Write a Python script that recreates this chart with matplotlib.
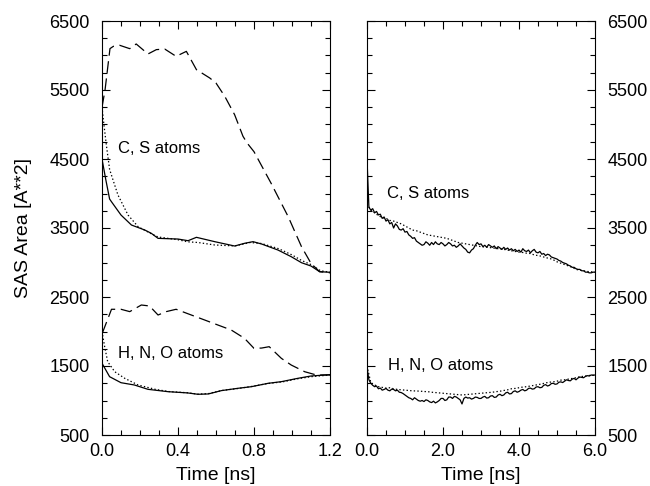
import numpy as np
import matplotlib
matplotlib.use("Agg")
import matplotlib.pyplot as plt
from matplotlib.ticker import MultipleLocator, FormatStrFormatter

plt.rcParams['font.family'] = ['Liberation Sans', 'DejaVu Sans']
plt.rcParams['lines.scale_dashes'] = False

# ---------------- Left panel (0 - 1.2 ns) ----------------
cs_solid_t = [0, 0.02, 0.04, 0.05, 0.10, 0.155, 0.225, 0.26, 0.295, 0.40, 0.453, 0.497,
              0.593, 0.698, 0.75, 0.795, 0.84, 0.926, 0.996, 1.05, 1.10, 1.145, 1.2]
cs_solid_v = [4500, 4200, 3920, 3880, 3688, 3543, 3471, 3422, 3350, 3340, 3316, 3365,
              3302, 3239, 3278, 3302, 3268, 3181, 3084, 2997, 2949, 2867, 2858]

cs_dot_t = [0, 0.01, 0.023, 0.04, 0.058, 0.084, 0.137, 0.19, 0.25, 0.295, 0.40, 0.45,
            0.505, 0.593, 0.70, 0.78, 0.84, 0.93, 1.0, 1.05, 1.10, 1.15, 1.2]
cs_dot_v = [5250, 5000, 4700, 4350, 4196, 3978, 3688, 3519, 3430, 3370, 3330, 3300,
            3290, 3254, 3240, 3290, 3275, 3200, 3110, 3030, 2970, 2880, 2860]

cs_dash_t = [0, 0.016, 0.042, 0.06, 0.093, 0.146, 0.18, 0.242, 0.286, 0.33, 0.39, 0.444,
             0.497, 0.567, 0.60, 0.646, 0.698, 0.742, 0.765, 0.80, 0.89, 0.98, 1.05,
             1.10, 1.145, 1.2]
cs_dash_v = [5250, 5500, 6100, 6133, 6148, 6099, 6167, 6022, 6085, 6094, 5988, 6060,
             5795, 5674, 5601, 5409, 5142, 4829, 4727, 4606, 4148, 3664, 3229,
             2988, 2867, 2850]

hno_solid_t = [0, 0.04, 0.10, 0.17, 0.242, 0.347, 0.45, 0.505, 0.56, 0.628, 0.716,
               0.786, 0.874, 0.944, 1.03, 1.10, 1.2]
hno_solid_v = [1540, 1345, 1258, 1225, 1162, 1128, 1110, 1090, 1095, 1143, 1177,
               1200, 1249, 1273, 1321, 1355, 1375]

hno_dot_t = [0, 0.014, 0.03, 0.067, 0.12, 0.19, 0.28, 0.35, 0.45, 0.505, 0.56, 0.63,
             0.72, 0.79, 0.87, 0.95, 1.03, 1.10, 1.2]
hno_dot_v = [2000, 1780, 1562, 1417, 1321, 1225, 1162, 1130, 1112, 1092, 1100, 1145,
             1175, 1205, 1245, 1270, 1315, 1345, 1370]

hno_dash_t = [0, 0.005, 0.05, 0.10, 0.146, 0.207, 0.25, 0.295, 0.338, 0.39, 0.47,
              0.54, 0.61, 0.68, 0.75, 0.80, 0.84, 0.88, 0.944, 0.996, 1.067, 1.128, 1.2]
hno_dash_v = [1980, 2000, 2322, 2322, 2288, 2384, 2370, 2239, 2288, 2322, 2239,
              2167, 2094, 2022, 1901, 1756, 1760, 1780, 1611, 1514, 1417, 1370, 1370]

# ---------------- Right panel (0 - 6 ns) ----------------
# solid curves sampled every 0.05 ns (121 values), dotted every 0.1 ns (61 values)
r_cs_solid = [4500, 3800, 3760, 3780, 3720, 3740, 3690, 3700, 3640, 3660,
              3600, 3620, 3560, 3580, 3500, 3560, 3530, 3480, 3470, 3490,
              3440, 3450, 3400, 3380, 3350, 3360, 3310, 3290, 3270, 3250,
              3260, 3300, 3280, 3250, 3290, 3260, 3300, 3270, 3260, 3290,
              3270, 3240, 3260, 3290, 3270, 3240, 3250, 3220, 3240, 3270,
              3240, 3210, 3190, 3150, 3140, 3180, 3200, 3250, 3290, 3260,
              3270, 3230, 3250, 3220, 3260, 3240, 3220, 3240, 3200, 3230,
              3210, 3190, 3220, 3190, 3210, 3180, 3200, 3170, 3190, 3160,
              3180, 3150, 3200, 3170, 3160, 3180, 3140, 3170, 3190, 3150,
              3140, 3160, 3120, 3130, 3100, 3120, 3110, 3080, 3070, 3060,
              3050, 3030, 3020, 3000, 2990, 2980, 2960, 2950, 2930, 2930,
              2910, 2900, 2900, 2880, 2880, 2860, 2860, 2850, 2850, 2860,
              2860]

r_hno_solid = [1480, 1300, 1250, 1220, 1200, 1210, 1170, 1180, 1150, 1160,
               1175, 1150, 1140, 1165, 1160, 1140, 1150, 1120, 1115, 1100,
               1080, 1060, 1040, 1030, 1010, 1040, 1020, 1000, 990, 1000,
               985, 1010, 1000, 980, 970, 990, 965, 980, 1000, 1030,
               1030, 1000, 1010, 1050, 1050, 1030, 1060, 1050, 1030, 1010,
               950, 1030, 1050, 1035, 1040, 1020, 1030, 1050, 1045, 1030,
               1030, 1050, 1060, 1035, 1040, 1065, 1070, 1045, 1050, 1080,
               1090, 1070, 1080, 1110, 1120, 1095, 1100, 1130, 1140, 1120,
               1130, 1150, 1160, 1140, 1150, 1175, 1180, 1165, 1170, 1195,
               1200, 1185, 1190, 1220, 1230, 1210, 1220, 1245, 1250, 1235,
               1240, 1265, 1270, 1260, 1280, 1300, 1290, 1285, 1310, 1320,
               1300, 1325, 1340, 1335, 1330, 1350, 1360, 1355, 1370, 1365,
               1370]

r_cs_dot = [3850, 3760, 3720, 3680, 3650, 3640, 3610, 3600, 3580, 3560,
            3530, 3500, 3470, 3460, 3440, 3420, 3400, 3390, 3380, 3370,
            3360, 3350, 3330, 3310, 3290, 3280, 3270, 3260, 3250, 3240,
            3230, 3225, 3220, 3210, 3205, 3195, 3190, 3180, 3170, 3160,
            3150, 3145, 3135, 3130, 3110, 3100, 3090, 3070, 3060, 3040,
            3010, 2990, 2970, 2950, 2930, 2900, 2890, 2880, 2870, 2865,
            2860]

r_hno_dot = [1500, 1260, 1225, 1200, 1190, 1180, 1185, 1170, 1160, 1155,
             1150, 1145, 1140, 1138, 1135, 1130, 1128, 1120, 1115, 1110,
             1105, 1100, 1095, 1090, 1085, 1080, 1085, 1090, 1095, 1100,
             1105, 1110, 1115, 1120, 1128, 1135, 1145, 1155, 1170, 1175,
             1185, 1195, 1200, 1210, 1220, 1230, 1240, 1255, 1265, 1270,
             1280, 1295, 1300, 1310, 1320, 1330, 1345, 1350, 1360, 1365,
             1370]

r_t_solid = np.linspace(0.0, 6.0, len(r_cs_solid))
r_t_dot = np.linspace(0.0, 6.0, len(r_cs_dot))

y_label = "SAS Area [A**2]"
x_label = "Time [ns]"
label_cs = "C, S atoms"
label_hno = "H, N, O atoms"

fig = plt.figure(figsize=(6.5, 4.86), dpi=100)
axL = fig.add_axes([102/650, 1-435/486, 228/650, 414/486])
axR = fig.add_axes([367/650, 1-435/486, 228/650, 414/486])

lw = 0.9
dash = (8.5, 4)
dot = (1, 1.6)

axL.plot(cs_solid_t, cs_solid_v, color='black', lw=lw)
axL.plot(cs_dot_t, cs_dot_v, color='black', lw=lw, dashes=dot)
axL.plot(cs_dash_t, cs_dash_v, color='black', lw=lw, dashes=dash)
axL.plot(hno_solid_t, hno_solid_v, color='black', lw=lw)
axL.plot(hno_dot_t, hno_dot_v, color='black', lw=lw, dashes=dot)
axL.plot(hno_dash_t, hno_dash_v, color='black', lw=lw, dashes=dash)

axR.plot(r_t_solid, r_cs_solid, color='black', lw=lw)
axR.plot(r_t_dot, r_cs_dot, color='black', lw=lw, dashes=dot)
axR.plot(r_t_solid, r_hno_solid, color='black', lw=lw)
axR.plot(r_t_dot, r_hno_dot, color='black', lw=lw, dashes=dot)

axL.set_xlim(0, 1.2)
axR.set_xlim(0, 6.0)
yticks = [500, 1500, 2500, 3500, 4500, 5500, 6500]
for ax in (axL, axR):
    ax.set_ylim(500, 6500)
    ax.set_yticks(yticks)
    ax.yaxis.set_minor_locator(MultipleLocator(250))
    ax.tick_params(which='both', direction='in', top=True, bottom=True,
                   left=True, right=True, width=0.8, labelsize=13)
    ax.tick_params(which='major', length=6)
    ax.tick_params(which='minor', length=3.5)
    ax.tick_params(axis='y', pad=9)
    ax.tick_params(axis='x', pad=6)
    for s in ax.spines.values():
        s.set_linewidth(0.8)
    ax.set_xlabel(x_label, fontsize=14, labelpad=5)

axL.xaxis.set_major_locator(MultipleLocator(0.4))
axL.xaxis.set_minor_locator(MultipleLocator(0.1))
axL.xaxis.set_major_formatter(FormatStrFormatter('%.1f'))
axR.xaxis.set_major_locator(MultipleLocator(2.0))
axR.xaxis.set_minor_locator(MultipleLocator(0.5))
axR.xaxis.set_major_formatter(FormatStrFormatter('%.1f'))

axR.tick_params(axis='y', labelleft=False, labelright=True)

axL.set_ylabel(y_label, fontsize=14, labelpad=12)

axL.text(0.084, 4659, label_cs, fontsize=12, ha='left', va='center')
axL.text(0.084, 1688, label_hno, fontsize=12, ha='left', va='center')
axR.text(0.53, 4007, label_cs, fontsize=12, ha='left', va='center')
axR.text(0.55, 1514, label_hno, fontsize=12, ha='left', va='center')

fig.savefig("out.png", dpi=100)
